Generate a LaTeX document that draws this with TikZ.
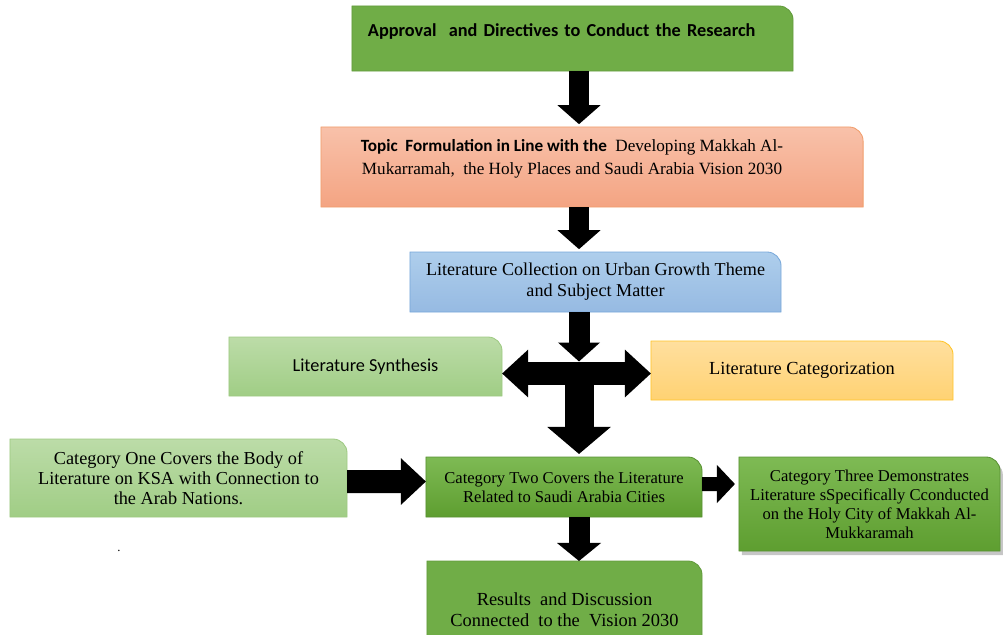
\documentclass[tikz,border=0pt]{standalone}
\usepackage{fontspec}
\setmainfont{Liberation Serif}
\newfontfamily\calfont{Carlito}
\usetikzlibrary{arrows.meta,backgrounds,shadows}

\definecolor{leafgreen}{RGB}{112,173,71}
\definecolor{leafedge}{RGB}{98,155,60}
\definecolor{peachtop}{RGB}{248,193,170}
\definecolor{peachbot}{RGB}{244,164,130}
\definecolor{peachedge}{RGB}{241,158,108}
\definecolor{skytop}{RGB}{174,206,236}
\definecolor{skybot}{RGB}{150,186,226}
\definecolor{skyedge}{RGB}{120,168,218}
\definecolor{mintop}{RGB}{188,220,168}
\definecolor{minbot}{RGB}{160,205,133}
\definecolor{minedge}{RGB}{158,202,130}
\definecolor{goldtop}{RGB}{255,223,158}
\definecolor{goldbot}{RGB}{255,210,115}
\definecolor{goldedge}{RGB}{255,196,40}
\definecolor{grasstop}{RGB}{126,186,84}
\definecolor{grassbot}{RGB}{94,158,48}
\definecolor{grassedge}{RGB}{88,145,50}

% box outline with only the top right corner rounded
\newcommand{\onecorner}[1]{(#1.south west) -- (#1.north west) -- ([xshift=-0.35cm]#1.north east) arc[start angle=90, end angle=0, radius=0.35cm] -- (#1.south east) -- cycle}

\tikzset{
  stepbox/.style={inner sep=0pt, outer sep=0pt, align=center},
  bigarrow/.style args={#1/#2/#3}{line width=#1, -{Triangle[width=#2, length=#3]}},
  twoway/.style args={#1/#2/#3}{line width=#1, {Triangle[width=#2, length=#3]}-{Triangle[width=#2, length=#3]}},
  leafbox/.style={fill=leafgreen, draw=leafedge, line width=0.6pt},
  peachbox/.style={top color=peachtop, bottom color=peachbot, draw=peachedge, line width=0.6pt},
  skybox/.style={top color=skytop, bottom color=skybot, draw=skyedge, line width=0.6pt},
  minbox/.style={top color=mintop, bottom color=minbot, draw=minedge, line width=0.6pt},
  goldbox/.style={top color=goldtop, bottom color=goldbot, draw=goldedge, line width=0.6pt},
  grassbox/.style={top color=grasstop, bottom color=grassbot, draw=grassedge, line width=0.6pt},
  shadowbox/.style={grassbox, drop shadow={shadow xshift=0.07cm, shadow yshift=-0.1cm, opacity=0.45}}
}

\begin{document}
\begin{tikzpicture}[x=0.025cm, y=-0.025cm]
\useasboundingbox (0,0) rectangle (1003,634);

\node[stepbox, minimum width=11.025cm, minimum height=1.625cm, text width=10.225cm, align=left,
      text height=0.75cm, text depth=0.875cm, font=\calfont\bfseries\fontsize{13}{16}\selectfont]
      (approve) at (572.5,38.5) {Approval\ \ and Directives to Conduct the Research};
\node[stepbox, minimum width=13.55cm, minimum height=2cm, text height=1.1875cm, text depth=0.8125cm,
      font=\fontsize{12.2}{16.4}\selectfont]
      (topic) at (592,167) {{\calfont\bfseries Topic\ \ Formulation in Line with the}\ \ Developing Makkah Al-\hspace*{1cm}\\Mukarramah,\ \ the Holy Places and Saudi Arabia Vision 2030\hspace*{1cm}};
\node[stepbox, minimum width=9.275cm, minimum height=1.5cm, font=\fontsize{12.9}{14.9}\selectfont]
      (collect) at (595.5,282) {Literature Collection on Urban Growth Theme\\and Subject Matter};
\node[stepbox, minimum width=6.825cm, minimum height=1.475cm, font=\calfont\fontsize{13}{15}\selectfont]
      (synth) at (365.5,366.5) {Literature Synthesis};
\node[stepbox, minimum width=7.55cm, minimum height=1.475cm, font=\fontsize{13.1}{15}\selectfont]
      (categ) at (802,370.5) {Literature Categorization};
\node[stepbox, minimum width=8.425cm, minimum height=1.95cm, font=\fontsize{13}{14.2}\selectfont]
      (catone) at (178.5,478) {Category One Covers the Body of\\Literature on KSA with Connection to\\the Arab Nations.};
\node[stepbox, minimum width=6.9cm, minimum height=1.5cm, font=\fontsize{11.8}{13.5}\selectfont]
      (cattwo) at (564,487) {Category Two Covers the Literature\\Related to Saudi Arabia Cities};
\node[stepbox, minimum width=6.525cm, minimum height=2.35cm, font=\fontsize{11.8}{13.5}\selectfont]
      (catthree) at (869.5,504) {Category Three Demonstrates\\Literature sSpecifically Cconducted\\on the Holy City of Makkah Al-\\Mukkaramah};
\node[stepbox, minimum width=6.875cm, minimum height=2.425cm, font=\fontsize{13.1}{14.9}\selectfont]
      (results) at (564.5,609.5) {Results\ \ and Discussion\\Connected\ \ to the\ \ Vision 2030};
\node[font=\small, inner sep=0pt] (stray) at (119,551) {.};

\begin{scope}[on background layer]
  \path[leafbox] \onecorner{approve};
  \path[peachbox] \onecorner{topic};
  \path[skybox] \onecorner{collect};
  \path[minbox] \onecorner{synth};
  \path[goldbox] \onecorner{categ};
  \path[minbox] \onecorner{catone};
  \path[grassbox] \onecorner{cattwo};
  \path[shadowbox] \onecorner{catthree};
  \path[leafbox] \onecorner{results};
\end{scope}

\coordinate (spine) at (579,0);
\coordinate (hub) at (579,373.5);

\draw[bigarrow=0.5cm/1.05cm/0.475cm, shorten >=0.07cm] (approve.south -| spine) -- (topic.north -| spine);
\draw[bigarrow=0.5cm/1.05cm/0.475cm, shorten >=0.07cm] (topic.south -| spine) -- (collect.north -| spine);
\draw[bigarrow=0.525cm/1.025cm/0.475cm] (collect.south -| spine) -- ([yshift=0.3cm]hub);
\draw[twoway=0.575cm/1.15cm/0.65cm] (synth.east |- hub) -- (categ.west |- hub);
\draw[bigarrow=0.725cm/1.55cm/0.675cm, shorten >=0.075cm] (hub) -- (cattwo.north -| hub);
\draw[bigarrow=0.575cm/1.125cm/0.625cm] ([yshift=-0.0875cm]catone.east) -- ([yshift=0.1375cm]cattwo.west);
\draw[bigarrow=0.35cm/0.925cm/0.45cm, shorten >=0.1cm] ([yshift=0.075cm]cattwo.east) -- ([yshift=0.5cm]catthree.west);
\draw[bigarrow=0.525cm/1.075cm/0.45cm] (cattwo.south -| spine) -- (results.north -| spine);
\end{tikzpicture}
\end{document}
